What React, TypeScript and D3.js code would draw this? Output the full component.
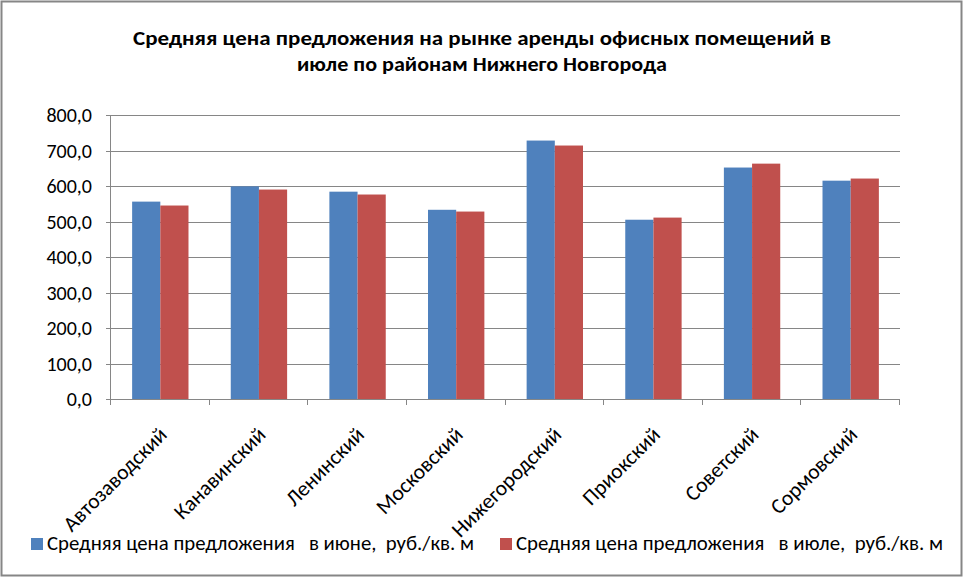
import { useRef, useEffect } from "react";
import * as d3 from "d3";

// districts of Nizhny Novgorod
const districts = [
  "Автозаводский",
  "Канавинский",
  "Ленинский",
  "Московский",
  "Нижегородский",
  "Приокский",
  "Советский",
  "Сормовский",
];

// average asking rent, rub per sq. m
const juneValues = [556, 599, 584, 533, 728, 505, 652, 615];
const julyValues = [545, 590, 576, 528, 714, 511, 663, 621];

const seriesNames = [
  "Средняя цена предложения   в июне,  руб./кв. м",
  "Средняя цена предложения   в июле,  руб./кв. м",
];

const yTicks = [0, 100, 200, 300, 400, 500, 600, 700, 800];

const titleLines = [
  "Средняя цена предложения на рынке аренды офисных помещений в",
  "июле по районам Нижнего Новгорода",
];

const COLORS = ["#4F81BD", "#C0504D"];
const FONT = "Carlito, Calibri, 'Noto Sans', sans-serif";

export default function App() {
  const svgRef = useRef<SVGSVGElement>(null);

  useEffect(() => {
    const width = 963;
    const height = 578;
    const MARGIN = { top: 115, right: 63, bottom: 179, left: 111 };

    const svg = d3.select(svgRef.current);
    svg.selectAll("*").remove();

    // outer frame
    svg.append("rect")
      .attr("x", 1.5).attr("y", 1.5)
      .attr("width", width - 3).attr("height", height - 4)
      .attr("fill", "#fff")
      .attr("stroke", "#868686")
      .attr("stroke-width", 2);

    // title
    const titleWidths = [698, 370];
    svg.append("g")
      .selectAll("text")
      .data(titleLines)
      .join("text")
      .attr("x", (d, i) => 482 - titleWidths[i] / 2)
      .attr("y", (d, i) => 45 + i * 26)
      .attr("textLength", (d, i) => titleWidths[i])
      .attr("lengthAdjust", "spacingAndGlyphs")
      .attr("font-family", FONT)
      .attr("font-weight", "bold")
      .attr("font-size", 20)
      .text(d => d);

    const x = d3.scaleBand()
      .domain(districts)
      .range([MARGIN.left, width - MARGIN.right]);

    const y = d3.scaleLinear()
      .domain([0, 800])
      .range([height - MARGIN.bottom, MARGIN.top]);

    // gridlines
    svg.append("g")
      .selectAll("line")
      .data(yTicks)
      .join("line")
      .attr("x1", MARGIN.left - 5)
      .attr("x2", width - MARGIN.right)
      .attr("y1", d => Math.round(y(d)) + 0.5)
      .attr("y2", d => Math.round(y(d)) + 0.5)
      .attr("stroke", "#868686");

    // y axis line
    svg.append("line")
      .attr("x1", MARGIN.left - 0.5).attr("x2", MARGIN.left - 0.5)
      .attr("y1", y(800)).attr("y2", y(0))
      .attr("stroke", "#868686");

    // category ticks
    const boundaries = [...districts.map(d => x(d)!), width - MARGIN.right];
    svg.append("g")
      .selectAll("line")
      .data(boundaries)
      .join("line")
      .attr("x1", d => Math.round(d) - 0.5)
      .attr("x2", d => Math.round(d) - 0.5)
      .attr("y1", y(0))
      .attr("y2", y(0) + 6)
      .attr("stroke", "#868686");

    // y labels
    svg.append("g")
      .selectAll("text")
      .data(yTicks)
      .join("text")
      .attr("x", 92)
      .attr("y", d => y(d) + 7)
      .attr("text-anchor", "end")
      .attr("font-family", FONT)
      .attr("font-size", 20)
      .text(d => d3.format(".1f")(d).replace(".", ","));

    // bars
    const step = x.bandwidth();
    const barW = step / 3.5;
    const seriesData = [juneValues, julyValues];
    seriesData.forEach((vals, s) => {
      svg.append("g")
        .selectAll("rect")
        .data(vals)
        .join("rect")
        .attr("x", (d, i) => x(districts[i])! + barW * 0.75 + s * barW)
        .attr("width", barW)
        .attr("y", d => y(d))
        .attr("height", d => y(0) - y(d))
        .attr("fill", COLORS[s]);
    });

    // x labels
    svg.append("g")
      .selectAll("text")
      .data(districts)
      .join("text")
      .attr("transform", d => `translate(${x(d)! + step / 2 + 8},${y(0) + 37}) rotate(-45)`)
      .attr("text-anchor", "end")
      .attr("font-family", FONT)
      .attr("font-size", 21.5)
      .text(d => d);

    // legend
    const legendX = [31, 500];
    const lg = svg.append("g")
      .selectAll("g")
      .data(seriesNames)
      .join("g")
      .attr("transform", (d, i) => `translate(${legendX[i]},538)`);
    lg.append("rect")
      .attr("width", 12).attr("height", 12)
      .attr("fill", (d, i) => COLORS[i]);
    lg.append("text")
      .attr("x", 16)
      .attr("y", 11.5)
      .attr("textLength", 427)
      .attr("lengthAdjust", "spacingAndGlyphs")
      .attr("font-family", FONT)
      .attr("font-size", 20)
      .style("white-space", "pre")
      .text(d => d);
  }, []);

  return (
    <svg
      ref={svgRef}
      width={963}
      height={578}
      style={{ position: "absolute", left: 0, top: 0, background: "#fff" }}
    ></svg>
  );
}
